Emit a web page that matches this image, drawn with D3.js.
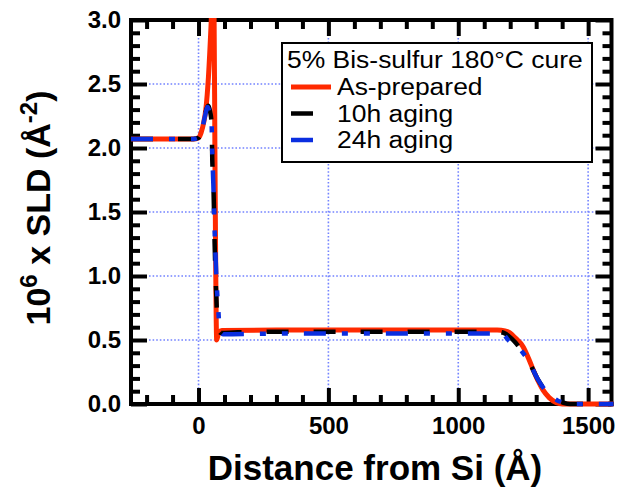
<!DOCTYPE html>
<html>
<head>
<meta charset="utf-8">
<script src="https://cdn.jsdelivr.net/npm/d3@7"></script>
<style>
    body { margin: 0; background: #fff; }
    svg { display: block; }
    text { font-family: "Liberation Sans", Arial, Helvetica, sans-serif; }
</style>
</head>
<body>
<div id="chart"></div>
<script>
/* ===== Data (distance in Å, SLD x 10^6 in Å^-2) ===== */
const asPrepared = [
    [-260, 2.07], [-20, 2.07], [0, 2.08], [10, 2.12], [20, 2.2], [28, 2.3], [38, 2.55],
    [48, 2.95], [55, 3.3], [60, 3.0], [63, 2.0], [70, 0.5], [78, 0.56], [90, 0.575],
    [300, 0.578], [1150, 0.578], [1180, 0.57], [1200, 0.555], [1220, 0.515], [1249, 0.45],
    [1270, 0.36], [1288, 0.27], [1310, 0.17], [1326, 0.11], [1350, 0.05], [1378, 0.01],
    [1400, 0], [1600, 0]
];
const aging10h = [
    [-260, 2.07], [-20, 2.07], [0, 2.08], [10, 2.12], [20, 2.2], [30, 2.3], [38, 2.33],
    [45, 2.28], [50, 2.2], [53, 1.9], [58, 1.65], [62, 1.25], [66, 0.97], [70, 0.76],
    [75, 0.6], [85, 0.555], [150, 0.56], [400, 0.565], [1150, 0.565], [1175, 0.555],
    [1195, 0.53], [1220, 0.48], [1243, 0.42], [1275, 0.32], [1307, 0.19], [1330, 0.12],
    [1352, 0.07], [1380, 0.03], [1405, 0.01], [1430, 0], [1600, 0]
];
const aging24h = [
    [-260, 2.07], [-20, 2.07], [0, 2.08], [12, 2.13], [25, 2.25], [35, 2.32], [42, 2.28],
    [50, 2.2], [53, 1.95], [57, 1.72], [62, 1.35], [67, 1.08], [71, 0.9], [76, 0.74],
    [82, 0.58], [95, 0.545], [300, 0.55], [1150, 0.55], [1175, 0.54], [1192, 0.5],
    [1220, 0.46], [1245, 0.41], [1275, 0.32], [1307, 0.19], [1330, 0.12], [1352, 0.07],
    [1380, 0.03], [1405, 0.01], [1430, 0], [1600, 0]
];

const seriesNames = ["As-prepared", "10h aging", "24h aging"];
const legendTitle = "5% Bis-sulfur 180°C cure";
const xMajorTicks = [0, 500, 1000, 1500];
const yMajorTicks = [0, 0.5, 1.0, 1.5, 2.0, 2.5, 3.0];

/* ===== Layout ===== */
const width = 620, height = 493;
const plot = {left: 131, right: 611.5, top: 20, bottom: 404};
const gridColor = "#7383ff";

const series = [
    {name: seriesNames[0], data: asPrepared, color: "#ff2a00", dash: null, width: 5},
    {name: seriesNames[1], data: aging10h, color: "#000000", dash: "22,25", width: 4.5},
    {name: seriesNames[2], data: aging24h, color: "#0a2ee0", dash: "22,16,6,16,6,16", width: 4.5}
];

const svg = d3.select("#chart").append("svg")
              .attr("width", width)
              .attr("height", height);

const x = d3.scaleLinear().domain([-260, 1590]).range([plot.left, plot.right]);
const y = d3.scaleLinear().domain([0, 3]).range([plot.bottom, plot.top]);

// dotted grid at major ticks, inside the frame
const grid = svg.append("g").attr("stroke", gridColor).attr("stroke-width", 1.6)
                .attr("stroke-dasharray", "1.6,2");
grid.selectAll(".gx").data(xMajorTicks).join("line")
    .attr("x1", d => x(d)).attr("x2", d => x(d))
    .attr("y1", plot.top).attr("y2", plot.bottom);
grid.selectAll(".gy").data(yMajorTicks.filter(d => d > 0 && d < 3)).join("line")
    .attr("x1", plot.left).attr("x2", plot.right)
    .attr("y1", d => y(d)).attr("y2", d => y(d));

// Axes: ticks all point inward, minor ticks every 100 Å / 0.1
const xMinor = d3.range(-200, 1591, 100).filter(d => !xMajorTicks.includes(d));
const yMinor = d3.range(1, 30).map(d => d / 10).filter(d => Math.round(d * 10) % 5 != 0);

function drawAxis(axis, tx, ty, labelled) {
    const g = svg.append("g")
                 .attr("transform", `translate(${tx},${ty})`)
                 .call(axis);
    g.select(".domain").remove();
    g.selectAll(".tick line").attr("stroke", "#000").attr("stroke-width", 4);
    if (labelled) {
        g.selectAll(".tick text")
         .attr("font-size", 24)
         .attr("font-weight", "bold")
         .attr("fill", "#000")
         .style("font-family", "'Liberation Sans', Arial, sans-serif");
    }
    return g;
}

drawAxis(d3.axisBottom(x).tickValues(xMajorTicks).tickSize(-16).tickPadding(13).tickFormat(d3.format("d")), 0, plot.bottom, true);
drawAxis(d3.axisBottom(x).tickValues(xMinor).tickSize(-9).tickFormat(""), 0, plot.bottom, false);
drawAxis(d3.axisTop(x).tickValues(xMajorTicks).tickSize(-16).tickFormat(""), 0, plot.top, false);
drawAxis(d3.axisTop(x).tickValues(xMinor).tickSize(-9).tickFormat(""), 0, plot.top, false);
drawAxis(d3.axisLeft(y).tickValues(yMajorTicks).tickSize(-16).tickPadding(10).tickFormat(d3.format(".1f")), plot.left, 0, true);
drawAxis(d3.axisLeft(y).tickValues(yMinor).tickSize(-9).tickFormat(""), plot.left, 0, false);
drawAxis(d3.axisRight(y).tickValues(yMajorTicks).tickSize(-16).tickFormat(""), plot.right, 0, false);
drawAxis(d3.axisRight(y).tickValues(yMinor).tickSize(-9).tickFormat(""), plot.right, 0, false);

// frame
svg.append("rect")
   .attr("x", plot.left).attr("y", plot.top)
   .attr("width", plot.right - plot.left).attr("height", plot.bottom - plot.top)
   .attr("fill", "none").attr("stroke", "#000").attr("stroke-width", 4);

// Curves, clipped at the top of the frame (the as-prepared peak runs off the chart)
svg.append("clipPath").attr("id", "clip")
   .append("rect")
   .attr("x", plot.left - 2).attr("y", plot.top - 2)
   .attr("width", plot.right - plot.left + 4).attr("height", plot.bottom - plot.top + 6);

const line = d3.line()
               .x(d => x(d[0]))
               .y(d => y(d[1]))
               .curve(d3.curveMonotoneX);

svg.append("g").attr("clip-path", "url(#clip)")
   .selectAll("path").data(series).join("path")
   .attr("d", d => line(d.data))
   .attr("fill", "none")
   .attr("stroke", d => d.color)
   .attr("stroke-width", d => d.width)
   .attr("stroke-dasharray", d => d.dash);

// Legend (the original lettering is a bit wider than Liberation Sans, so stretch it)
const legendFont = 23, legendStretch = 1.15;
const legend = svg.append("g").attr("transform", "translate(282,43)");
legend.append("rect")
      .attr("width", 310).attr("height", 119)
      .attr("fill", "#fff").attr("stroke", "#000").attr("stroke-width", 2);
legend.append("text")
      .attr("x", 5).attr("y", 25)
      .attr("font-size", legendFont)
      .text(legendTitle);
const items = legend.selectAll(".item").data(series).join("g")
                    .attr("transform", (d, i) => `translate(0,${52 + i * 26.5})`);
items.append("line")
     .attr("x1", 9).attr("x2", d => d.dash ? 31 : 49)
     .attr("y1", -8).attr("y2", -8)
     .attr("stroke", d => d.color)
     .attr("stroke-width", d => d.width);
items.append("text")
     .attr("x", 55)
     .attr("font-size", legendFont)
     .text(d => d.name);
legend.selectAll("text").each(function() {
    const w = this.getComputedTextLength();
    d3.select(this).attr("textLength", w * legendStretch)
                   .attr("lengthAdjust", "spacingAndGlyphs");
});

// Axis titles
svg.append("text")
   .attr("x", 375).attr("y", 480)
   .attr("text-anchor", "middle")
   .attr("font-size", 35).attr("font-weight", "bold")
   .text("Distance from Si (Å)");

const yTitle = svg.append("text")
                  .attr("transform", "translate(50,208) rotate(-90)")
                  .attr("text-anchor", "middle")
                  .attr("font-size", 34).attr("font-weight", "bold");
yTitle.append("tspan").text("10");
yTitle.append("tspan").attr("font-size", 24).attr("dy", -13).text("6");
yTitle.append("tspan").attr("dy", 13).text(" x SLD (Å");
yTitle.append("tspan").attr("font-size", 24).attr("dy", -13).text("-2");
yTitle.append("tspan").attr("dy", 13).text(")");
</script>
</body>
</html>
